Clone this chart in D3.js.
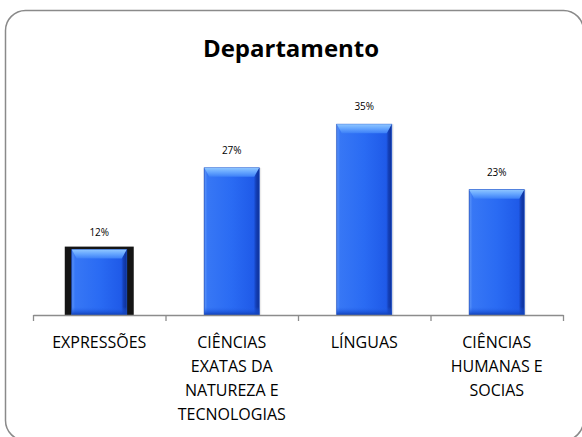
<!DOCTYPE html>
<html>
<head>
<meta charset="utf-8">
<script src="https://cdn.jsdelivr.net/npm/d3@7"></script>
<style>
  body { margin: 0; background: #fff; }
  svg { display: block; font-family: "Open Sans", sans-serif; }
</style>
</head>
<body>
<svg id="chart" width="582" height="437"></svg>
<script>
// values
const categories = ["EXPRESSÕES", "CIÊNCIAS EXATAS", "LÍNGUAS", "CIÊNCIAS HUMANAS"];
const labelLines = [
	["EXPRESSÕES"],
	["CIÊNCIAS", "EXATAS DA", "NATUREZA E", "TECNOLOGIAS"],
	["LÍNGUAS"],
	["CIÊNCIAS", "HUMANAS E", "SOCIAS"]
];
const values = [0.12, 0.27, 0.35, 0.23];
const valueLabels = ["12%", "27%", "35%", "23%"];
const title = "Departamento";

const svg = d3.select("#chart");
const width = 582, height = 437;

// frame
svg.append("rect")
	.attr("x", 5.5).attr("y", 10.5)
	.attr("width", 578).attr("height", 430)
	.attr("rx", 20).attr("ry", 20)
	.attr("fill", "#fff")
	.attr("stroke", "#8a8a8a").attr("stroke-width", 1.5);

svg.append("text")
	.attr("x", 291).attr("y", 57)
	.attr("text-anchor", "middle")
	.attr("font-weight", "bold").attr("font-size", 24)
	.attr("fill", "#000")
	.text(title);

const x = d3.scaleBand().domain(categories).range([33, 563]).padding(0);
const y = d3.scaleLinear().domain([0, 0.4]).range([315, 97]);
const barW = x.bandwidth() * 0.415;

// gradients
const defs = svg.append("defs");
const body = defs.append("linearGradient").attr("id", "body").attr("x1", 0).attr("x2", 1).attr("y1", 0).attr("y2", 0);
body.append("stop").attr("offset", "0").attr("stop-color", "#5d95f8");
body.append("stop").attr("offset", "0.06").attr("stop-color", "#3777f5");
body.append("stop").attr("offset", "0.5").attr("stop-color", "#2a6bf3");
body.append("stop").attr("offset", "0.9").attr("stop-color", "#1f5ae8");
body.append("stop").attr("offset", "0.94").attr("stop-color", "#1440b8");
body.append("stop").attr("offset", "1").attr("stop-color", "#0d2f95");
const topG = defs.append("linearGradient").attr("id", "topbevel").attr("x1", 0).attr("x2", 0).attr("y1", 0).attr("y2", 1);
topG.append("stop").attr("offset", "0").attr("stop-color", "#8fc6ff");
topG.append("stop").attr("offset", "0.45").attr("stop-color", "#68a8ff");
topG.append("stop").attr("offset", "1").attr("stop-color", "#3c7ff7");
const botG = defs.append("linearGradient").attr("id", "botbevel").attr("x1", 0).attr("x2", 0).attr("y1", 0).attr("y2", 1);
botG.append("stop").attr("offset", "0").attr("stop-color", "#2563ee").attr("stop-opacity", 0);
botG.append("stop").attr("offset", "1").attr("stop-color", "#0f3fb8");

const bars = svg.append("g").selectAll("g").data(values).join("g");

// dark frame around the first bar, as in the picture
bars.filter((d, i) => i === 0).append("rect")
	.attr("x", (d, i) => x(categories[0]) + x.bandwidth() / 2 - barW / 2 - 7)
	.attr("y", d => y(d) - 3)
	.attr("width", barW + 14)
	.attr("height", d => y(0) - y(d) + 3)
	.attr("fill", "#151515");

// soft shadow
bars.append("rect")
	.attr("x", (d, i) => x(categories[i]) + x.bandwidth() / 2 - barW / 2 - 1)
	.attr("y", d => y(d))
	.attr("width", barW + 3)
	.attr("height", d => y(0) - y(d))
	.attr("fill", "#000").attr("opacity", (d, i) => i === 0 ? 0 : 0.08);

bars.append("rect")
	.attr("x", (d, i) => x(categories[i]) + x.bandwidth() / 2 - barW / 2)
	.attr("y", d => y(d))
	.attr("width", barW)
	.attr("height", d => y(0) - y(d))
	.attr("fill", "url(#body)")
	.attr("stroke", "#1a4fc9").attr("stroke-width", 0.8);

bars.append("rect")
	.attr("x", (d, i) => x(categories[i]) + x.bandwidth() / 2 - barW / 2)
	.attr("y", d => y(0) - 8)
	.attr("width", barW)
	.attr("height", 8)
	.attr("fill", "url(#botbevel)");

bars.append("path")
	.attr("d", (d, i) => {
		const x0 = x(categories[i]) + x.bandwidth() / 2 - barW / 2, x1 = x0 + barW;
		const t = y(d), b = 9;
		return `M${x0},${t}L${x1},${t}L${x1 - 5},${t + b}L${x0 + 5},${t + b}Z`;
	})
	.attr("fill", "url(#topbevel)");

svg.append("g").selectAll("text").data(values).join("text")
	.attr("x", (d, i) => x(categories[i]) + x.bandwidth() / 2)
	.attr("y", d => y(d) - 14)
	.attr("text-anchor", "middle")
	.attr("font-size", 10)
	.attr("fill", "#000")
	.text((d, i) => valueLabels[i]);

// axis with ticks on category borders
const tickScale = d3.scaleLinear().domain([0, categories.length]).range(x.range());
const axis = svg.append("g")
	.attr("transform", `translate(0,${y(0)})`)
	.call(d3.axisBottom(tickScale).tickValues(d3.range(categories.length + 1)).tickFormat("").tickSize(6).tickSizeOuter(0));
axis.selectAll("path, line").attr("stroke", "#8c8c8c").attr("stroke-width", 1.3);

const labels = svg.append("g").selectAll("text").data(labelLines).join("text")
	.attr("text-anchor", "middle")
	.attr("font-size", 16)
	.attr("fill", "#000");
labels.selectAll("tspan").data((d, i) => d.map(t => ({t, i}))).join("tspan")
	.attr("x", d => x(categories[d.i]) + x.bandwidth() / 2)
	.attr("y", (d, j) => 348 + j * 24)
	.text(d => d.t);
</script>
</body>
</html>
